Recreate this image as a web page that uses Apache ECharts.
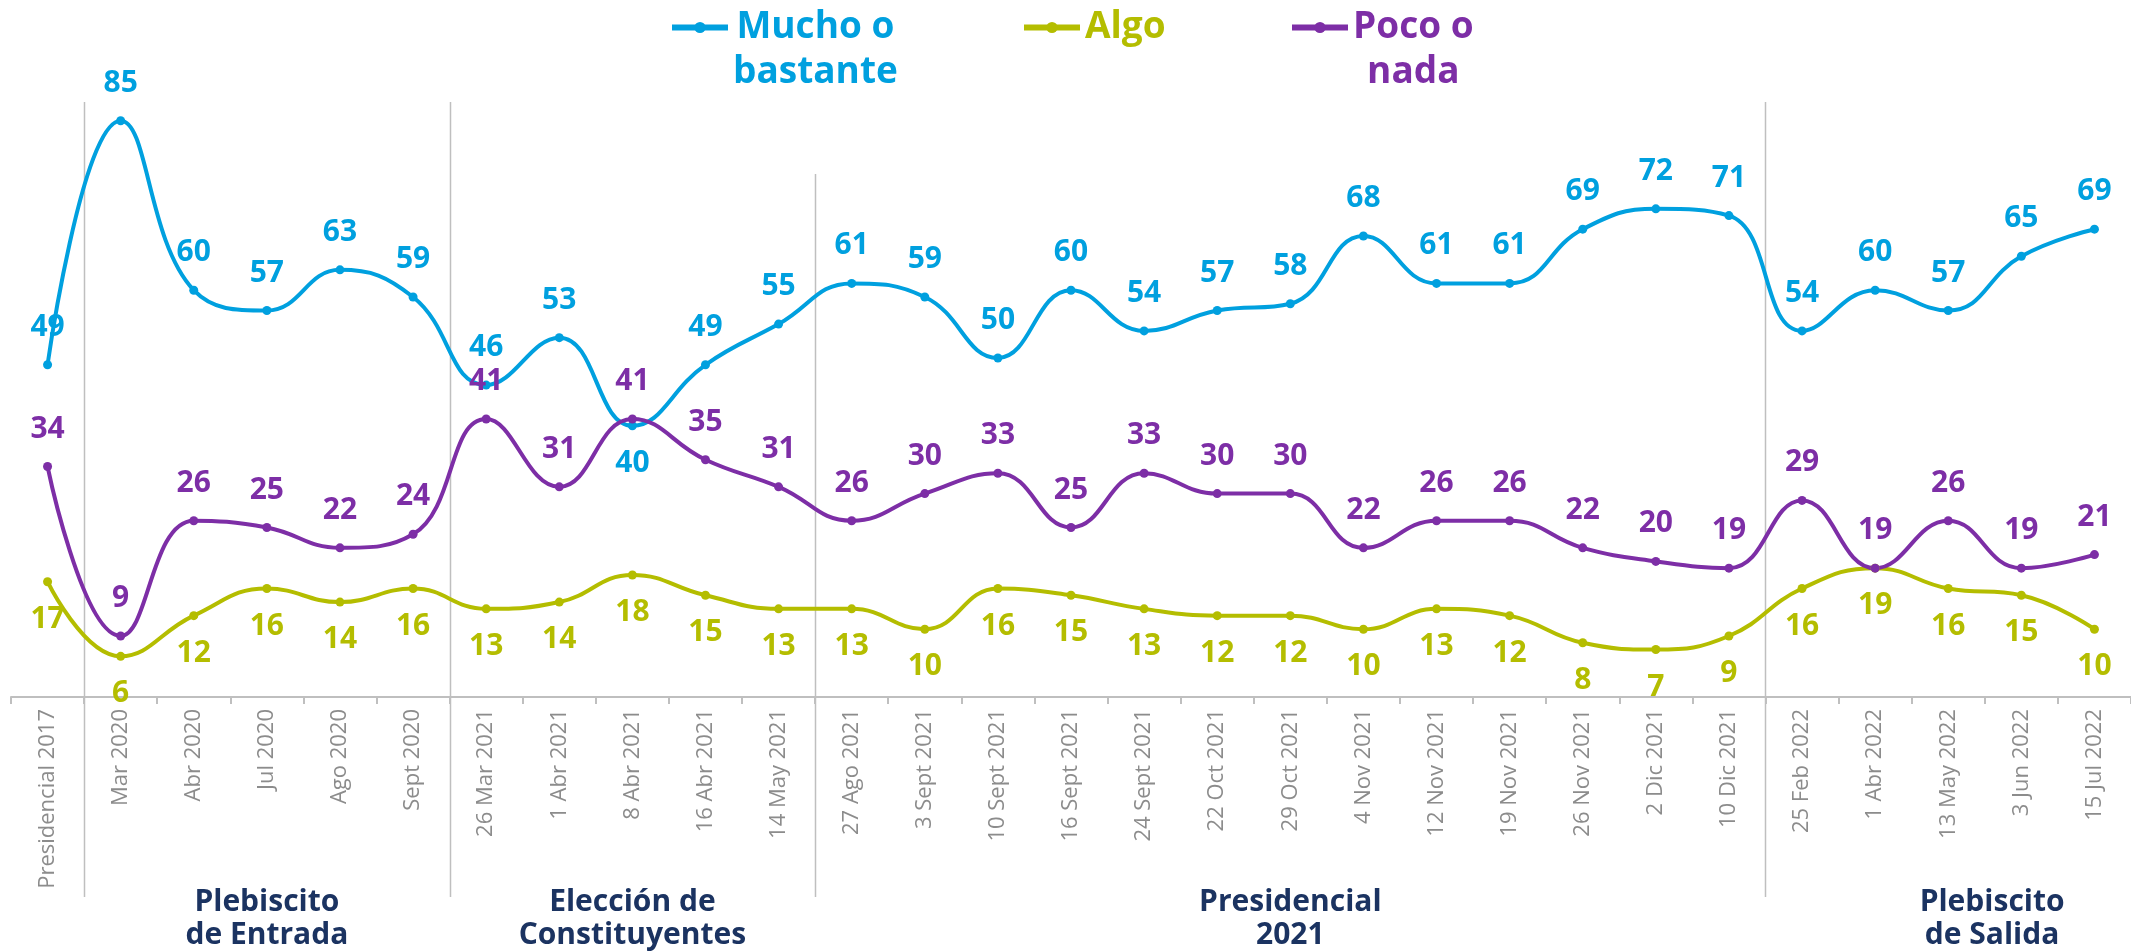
<!DOCTYPE html>
<html>
<head>
<meta charset="utf-8">
<script src="https://cdn.jsdelivr.net/npm/echarts@6/dist/echarts.min.js"></script>
<style>
  html, body { margin: 0; padding: 0; background: #fff; }
  #chart { width: 2131px; height: 952px; }
</style>
</head>
<body>
<div id="chart"></div>
<script>
// categorías del eje X
const categories = [
  "Presidencial 2017", "Mar 2020", "Abr 2020", "Jul 2020", "Ago 2020", "Sept 2020",
  "26 Mar 2021", "1 Abr 2021", "8 Abr 2021", "16 Abr 2021", "14 May 2021",
  "27 Ago 2021", "3 Sept 2021", "10 Sept 2021", "16 Sept 2021", "24 Sept 2021",
  "22 Oct 2021", "29 Oct 2021", "4 Nov 2021", "12 Nov 2021", "19 Nov 2021",
  "26 Nov 2021", "2 Dic 2021", "10 Dic 2021",
  "25 Feb 2022", "1 Abr 2022", "13 May 2022", "3 Jun 2022", "15 Jul 2022"
];
const mucho = [49, 85, 60, 57, 63, 59, 46, 53, 40, 49, 55, 61, 59, 50, 60, 54, 57, 58, 68, 61, 61, 69, 72, 71, 54, 60, 57, 65, 69];
const algo = [17, 6, 12, 16, 14, 16, 13, 14, 18, 15, 13, 13, 10, 16, 15, 13, 12, 12, 10, 13, 12, 8, 7, 9, 16, 19, 16, 15, 10];
const poco = [34, 9, 26, 25, 22, 24, 41, 31, 41, 35, 31, 26, 30, 33, 25, 33, 30, 30, 22, 26, 26, 22, 20, 19, 29, 19, 26, 19, 21];
const seriesNames = ["Mucho o bastante", "Algo", "Poco o nada"];
const legendLines = { "Mucho o bastante": ["Mucho o", "bastante"], "Algo": ["Algo"], "Poco o nada": ["Poco o", "nada"] };
const groupLabels = ["Plebiscito\nde Entrada", "Elección de\nConstituyentes", "Presidencial\n2021", "Plebiscito\nde Salida"];

const colors = ["#00A0DF", "#B4BD00", "#7D2EA6"];
const FONT = "Open Sans";

const chart = echarts.init(document.getElementById("chart"));

function makeSeries(name, values, color, pos, exceptions) {
  return {
    name: name,
    type: "line",
    smooth: 0.45,
    symbol: "circle",
    symbolSize: 9,
    lineStyle: { width: 4, color: color },
    itemStyle: { color: color },
    label: {
      show: true,
      position: pos,
      distance: 18,
      color: color,
      fontFamily: FONT,
      fontWeight: "bold",
      fontSize: 30
    },
    data: values.map((v, i) => exceptions[i] ? { value: v, label: { position: exceptions[i] } } : v)
  };
}

function legendFor(i, left, top) {
  const name = seriesNames[i];
  const lines = legendLines[name];
  return {
    data: [name],
    left: left,
    top: top,
    itemWidth: 56,
    itemHeight: 14,
    itemGap: 5,
    selectedMode: false,
    lineStyle: { width: 6 },
    formatter: () => lines.map(l => "{t|" + l + "}").join("\n"),
    textStyle: {
      color: colors[i],
      fontFamily: FONT,
      fontWeight: "bold",
      fontSize: 37,
      lineHeight: 45,
      padding: [45 * (lines.length - 1), 0, 0, 0],
      rich: {
        t: { align: "center", color: colors[i], fontFamily: FONT, fontWeight: "bold", fontSize: 37, lineHeight: 45 }
      }
    }
  };
}

const option = {
  animation: false,
  color: colors,
  legend: [
    legendFor(0, 664, -45),
    legendFor(1, 1016, 0),
    legendFor(2, 1284, -45)
  ],
  grid: { left: 11, right: 0, top: 19, bottom: 255 },
  xAxis: {
    type: "category",
    data: categories,
    boundaryGap: true,
    axisLine: { lineStyle: { color: "#bfbfbf", width: 2 } },
    axisTick: { show: true, length: 7, lineStyle: { color: "#bfbfbf", width: 2 } },
    axisLabel: {
      interval: 0,
      rotate: 90,
      margin: 12,
      color: "#8c8c8c",
      fontFamily: FONT,
      fontSize: 22
    }
  },
  yAxis: {
    type: "value",
    min: 0,
    max: 100,
    show: false
  },
  series: [
    makeSeries(seriesNames[0], mucho, colors[0], "top", { 8: "bottom" }),
    makeSeries(seriesNames[1], algo, colors[1], "bottom", {}),
    makeSeries(seriesNames[2], poco, colors[2], "top", {})
  ]
};
chart.setOption(option);

// líneas separadoras y nombres de los periodos
const xPix = i => chart.convertToPixel({ xAxisIndex: 0 }, i);
const step = xPix(1) - xPix(0);
const boundaries = [1, 6, 11, 24];
const sepTops = [102, 102, 174, 102];
const groupCenters = [xPix(3), xPix(8), xPix(17), xPix(26) + 0.6 * step];
const graphics = [];
boundaries.forEach((b, k) => {
  const x = Math.round(xPix(b) - step / 2) + 0.5;
  graphics.push({
    type: "line",
    shape: { x1: x, y1: sepTops[k], x2: x, y2: 897 },
    style: { stroke: "#bfbfbf", lineWidth: 1.5 },
    silent: true
  });
});
groupLabels.forEach((t, k) => {
  graphics.push({
    type: "text",
    x: groupCenters[k],
    y: 886,
    style: {
      text: t,
      align: "center",
      verticalAlign: "top",
      fill: "#1B3361",
      font: "bold 30px '" + FONT + "'",
      lineHeight: 33
    },
    silent: true
  });
});
chart.setOption({ graphic: graphics });
</script>
</body>
</html>
